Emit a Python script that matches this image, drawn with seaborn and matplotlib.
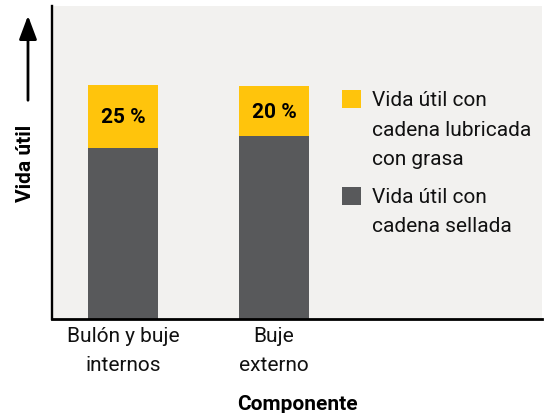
import pandas as pd
import seaborn as sns
import matplotlib.pyplot as plt
from matplotlib.patches import Rectangle

# Chart data
components = ['Bulón y buje\ninternos', 'Buje\nexterno']
sealed_life = [54.6, 58.5]       # dark segment
greased_extra = [20.2, 15.9]     # yellow segment on top
extra_labels = ['25 %', '20 %']
legend_labels = ['Vida útil con\ncadena lubricada\ncon grasa',
                 'Vida útil con\ncadena sellada']

YELLOW = '#FFC40C'
DARK = '#58595B'
BG = '#F2F1EF'
TXT = '#111111'

sns.set_theme(style='white')
plt.rcParams['font.family'] = ['Roboto', 'DejaVu Sans']

df = pd.DataFrame({'component': components,
                   'sealed': sealed_life,
                   'extra': greased_extra})
df['total'] = df['sealed'] + df['extra']

W, H = 544, 414
fig = plt.figure(figsize=(W / 100, H / 100), dpi=100)
ax = fig.add_axes([52 / W, 1 - 320 / H, 490 / W, 313 / H])
ax.set_facecolor(BG)

# stacked bars: total first (yellow), then sealed part over it (dark)
sns.barplot(data=df, x='component', y='total', color=YELLOW, width=0.46,
            saturation=1, linewidth=0, edgecolor='none', ax=ax)
sns.barplot(data=df, x='component', y='sealed', color=DARK, width=0.46,
            saturation=1, linewidth=0, edgecolor='none', ax=ax)

for i, row in df.iterrows():
    ax.text(i, row['sealed'] + row['extra'] / 2, extra_labels[i],
            ha='center', va='center', fontsize=15, fontweight='bold', color='black')

ax.set_xlim(-0.47, 2.775)
ax.set_ylim(0, 100)
ax.set_yticks([])
ax.tick_params(axis='x', length=0, pad=5, labelsize=15, colors=TXT)
for t in ax.get_xticklabels():
    t.set_linespacing(1.7)

for side in ['top', 'right']:
    ax.spines[side].set_visible(False)
ax.spines['left'].set_color('black')
ax.spines['left'].set_linewidth(1.7)
ax.spines['bottom'].set_color('black')
ax.spines['bottom'].set_linewidth(2)

ax.set_xlabel('Componente', fontsize=15, fontweight='bold', labelpad=14, color='black')
ax.set_ylabel('Vida útil', fontsize=15, fontweight='bold', color='black')
ax.yaxis.set_label_coords(-0.034, 0.5)

# arrow above the y label
ax.annotate('', xy=(-0.049, 0.978), xytext=(-0.049, 0.69),
            xycoords='axes fraction', textcoords='axes fraction',
            arrowprops=dict(arrowstyle='-|>,head_width=0.45,head_length=1.2',
                            color='black', lw=2), annotation_clip=False)

# legend, handles aligned with the first text line
legend_colors = [YELLOW, DARK]
legend_tops = [91, 188]
for color, top, label in zip(legend_colors, legend_tops, legend_labels):
    fig.patches.append(Rectangle((342 / W, 1 - (top + 18) / H), 19 / W, 18 / H,
                                 transform=fig.transFigure, facecolor=color,
                                 edgecolor='none'))
    fig.text(372 / W, 1 - top / H, label, ha='left', va='top',
             fontsize=15, color=TXT, linespacing=1.7)

plt.savefig('out.png', dpi=100)
